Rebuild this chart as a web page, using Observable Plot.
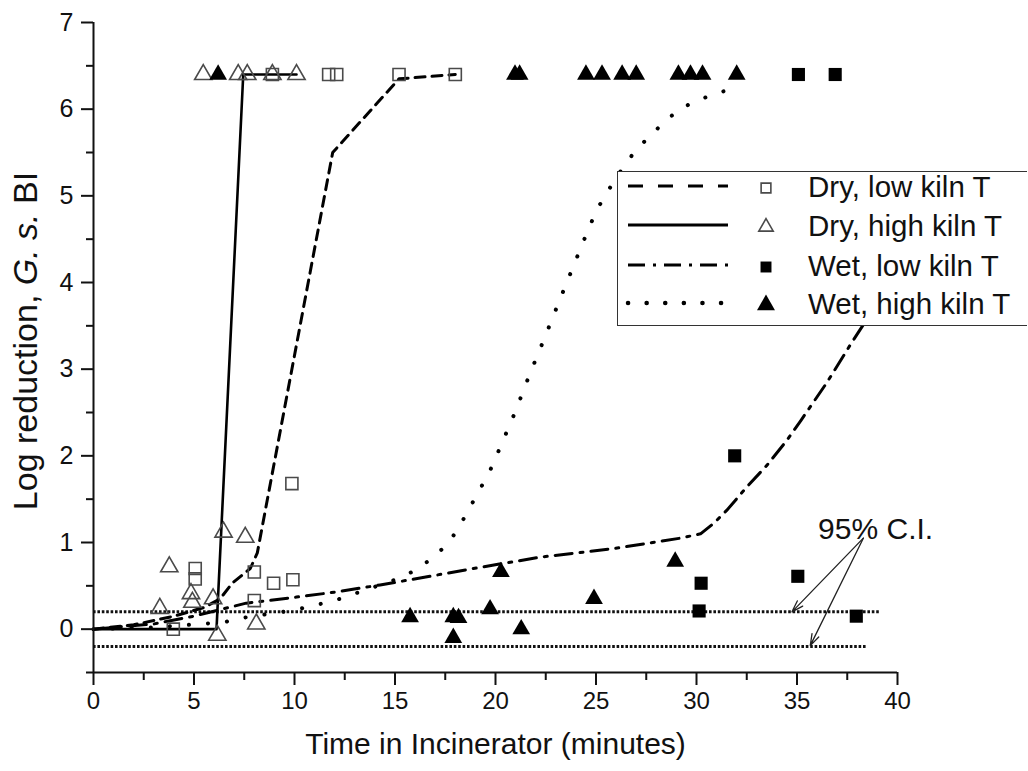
<!DOCTYPE html>
<html><head><meta charset="utf-8">
<script src="https://cdn.jsdelivr.net/npm/d3@7"></script>
<script src="https://cdn.jsdelivr.net/npm/@observablehq/plot@0.6"></script>
<style>
html,body{margin:0;padding:0;background:#fff;}
#wrap{position:relative;width:1028px;height:771px;overflow:hidden;font-family:"Liberation Sans",Arial,sans-serif;}
#legend{position:absolute;left:617px;top:171px;width:409px;height:153px;border:1.5px solid #333;border-right:none;background:#fff;}
</style></head><body><div id="wrap"><div id="legend"></div></div>
<script>
// ---------- data ----------
const xTicks = [0, 5, 10, 15, 20, 25, 30, 35, 40];
const yTicks = [0, 1, 2, 3, 4, 5, 6, 7];
const xMinor = [2.5, 7.5, 12.5, 17.5, 22.5, 27.5, 32.5, 37.5];
const yMinor = [-0.5, 0.5, 1.5, 2.5, 3.5, 4.5, 5.5, 6.5];

const seriesNames = ["Dry, low kiln T", "Dry, high kiln T", "Wet, low kiln T", "Wet, high kiln T"];

// Dry, low kiln T (open squares)
const dryLowX = [3.97, 5.06, 5.06, 8.0, 8.0, 8.96, 9.92, 9.87, 8.9, 11.7, 12.1, 15.2, 18.0];
const dryLowY = [0.0, 0.58, 0.70, 0.33, 0.66, 0.53, 0.57, 1.68, 6.4, 6.4, 6.4, 6.4, 6.4];
// Dry, high kiln T (open triangles)
const dryHighX = [3.3, 3.77, 4.85, 4.92, 5.95, 6.16, 6.47, 7.55, 8.1, 5.46, 7.2, 7.65, 8.9, 10.1];
const dryHighY = [0.24, 0.72, 0.41, 0.31, 0.35, -0.07, 1.12, 1.06, 0.06, 6.4, 6.4, 6.4, 6.4, 6.4];
// Wet, low kiln T (filled squares)
const wetLowX = [30.13, 30.23, 31.9, 35.04, 37.95, 35.07, 36.9];
const wetLowY = [0.21, 0.53, 2.0, 0.61, 0.15, 6.4, 6.4];
// Wet, high kiln T (filled triangles)
const wetHighX = [15.75, 17.9, 18.16, 17.9, 19.73, 20.27, 21.28, 24.9, 28.94,
                  6.2, 20.97, 21.2, 24.5, 25.3, 26.3, 27.0, 29.1, 29.7, 30.3, 32.0];
const wetHighY = [0.14, 0.14, 0.13, -0.10, 0.23, 0.66, 0.0, 0.35, 0.78,
                  6.4, 6.4, 6.4, 6.4, 6.4, 6.4, 6.4, 6.4, 6.4, 6.4, 6.4];

// fitted curves
const dryLowFitX = [0, 2, 4, 5.5, 6.3, 6.9, 7.8, 8.15, 11.9, 15.2, 18.0];
const dryLowFitY = [0, 0.05, 0.15, 0.25, 0.35, 0.53, 0.7, 0.88, 5.5, 6.35, 6.4];
const dryHighFitX = [0, 6.12, 7.45, 10.1];
const dryHighFitY = [0, 0, 6.4, 6.4];
const wetLowFitX = [0, 3, 5, 6.2, 7.6, 10.1, 12.1, 14.26, 16.25, 18.9, 22.2, 25.87, 29.2, 30.2, 30.85, 31.5, 32.5, 33.5, 34.5, 35.2, 36.5, 37.65, 38.6, 40];
const wetLowFitY = [0, 0.06, 0.15, 0.22, 0.3, 0.37, 0.43, 0.51, 0.59, 0.7, 0.83, 0.93, 1.05, 1.1, 1.22, 1.37, 1.64, 1.89, 2.18, 2.41, 2.85, 3.28, 3.62, 4.1];
const wetHighFitX = [0, 3, 6.5, 7.4, 10, 12, 13.5, 15, 15.84, 16.75, 17.66, 18.24, 18.74, 19.24, 19.73, 20.18, 20.95, 21.7, 22.44, 23.18, 23.93, 24.7, 25.12, 25.66, 26.24, 26.92, 27.8, 28.73, 29.65, 30.6, 31.54, 32.0];
const wetHighFitY = [0, 0.02, 0.08, 0.13, 0.22, 0.33, 0.45, 0.57, 0.66, 0.8, 0.99, 1.2, 1.41, 1.62, 1.83, 2.07, 2.49, 2.94, 3.36, 3.79, 4.22, 4.66, 4.87, 5.08, 5.29, 5.51, 5.72, 5.92, 6.06, 6.15, 6.22, 6.27];

// 95% confidence interval lines
const ciLevels = [0.2, -0.2];
const ciEnds = [39.1, 38.5];
// annotation
const ciLabel = ["95% C.I."];
const ciLabelX = [36.05];
const ciLabelY = [1.15];
const arrowX1 = [38.3, 38.3];
const arrowY1 = [1.05, 1.05];
const arrowX2 = [34.75, 35.66];
const arrowY2 = [0.2, -0.19];

const xTitle = "Time in Incinerator (minutes)";

// ---------- chart ----------
const font = "Liberation Sans, Arial, sans-serif";
const open = {fill: "none", stroke: "#4a4a4a", strokeWidth: 1.6};
const filled = {fill: "#000", stroke: "none"};
const fmt = d => String(d);

const chart = Plot.plot({
  width: 1028, height: 771,
  marginLeft: 93, marginRight: 131, marginTop: 22, marginBottom: 99,
  x: {domain: [0, 40]},
  y: {domain: [-0.5, 7]},
  style: {fontFamily: font, color: "#111", background: "white", overflow: "visible"},
  marks: [
    Plot.ruleY(ciLevels, {y: ciLevels, x1: 0, x2: ciEnds, stroke: "#111", strokeWidth: 3, strokeDasharray: "2.6,1.8"}),
    Plot.line(dryHighFitX, {x: dryHighFitX, y: dryHighFitY, stroke: "#000", strokeWidth: 2.6}),
    Plot.line(dryLowFitX, {x: dryLowFitX, y: dryLowFitY, stroke: "#000", strokeWidth: 3, strokeDasharray: "10,7"}),
    Plot.line(wetLowFitX, {x: wetLowFitX, y: wetLowFitY, stroke: "#000", strokeWidth: 3, strokeDasharray: "17,8,3,8"}),
    Plot.line(wetHighFitX, {x: wetHighFitX, y: wetHighFitY, stroke: "#000", strokeWidth: 4, strokeLinecap: "round", strokeDasharray: "0.1,19"}),
    Plot.dot(dryLowX, {x: dryLowX, y: dryLowY, symbol: "square", r: 6.8, ...open}),
    Plot.dot(dryHighX, {x: dryHighX, y: dryHighY, symbol: "triangle", r: 6.4, ...open}),
    Plot.dot(wetLowX, {x: wetLowX, y: wetLowY, symbol: "square", r: 7.4, ...filled}),
    Plot.dot(wetHighX, {x: wetHighX, y: wetHighY, symbol: "triangle", r: 6.6, ...filled}),
    Plot.arrow(arrowX1, {x1: arrowX1, y1: arrowY1, x2: arrowX2, y2: arrowY2, stroke: "#222", strokeWidth: 1.3, headLength: 14, headAngle: 36}),
    Plot.text(ciLabel, {x: ciLabelX, y: ciLabelY, text: d => d, textAnchor: "start", fontSize: 30, fill: "#111"}),
    // axes
    Plot.ruleX([0], {y1: -0.5, y2: 7, stroke: "#111", strokeWidth: 2}),
    Plot.ruleY([-0.5], {x1: 0, x2: 40, stroke: "#111", strokeWidth: 2}),
    Plot.axisY(yTicks, {tickSize: 12, tickPadding: 8, fontSize: 25, strokeWidth: 2, tickFormat: fmt, label: null}),
    Plot.axisY(yMinor, {tickSize: 7, text: null, strokeWidth: 2, label: null}),
    Plot.axisX(xTicks, {tickSize: 13, tickPadding: 6, fontSize: 24, strokeWidth: 2, tickFormat: fmt, label: null}),
    Plot.axisX(xMinor, {tickSize: 8, text: null, strokeWidth: 2, label: null}),
    Plot.text([xTitle], {frameAnchor: "bottom", dy: 81, text: d => d, fontSize: 30, fill: "#111"})
  ]
});

document.getElementById("wrap").insertBefore(chart, document.getElementById("legend"));
chart.style.position = "absolute";
chart.style.left = "0px";
chart.style.top = "0px";

// y-axis title with italic organism name
const ys = chart.scale("y");
const yMid = (ys.apply(7) + ys.apply(-0.5)) / 2 - 6;
const yt = d3.select(chart).append("text")
  .attr("transform", `translate(37,${yMid}) rotate(-90)`)
  .attr("text-anchor", "middle")
  .attr("font-family", font)
  .attr("font-size", 34)
  .attr("fill", "#111");
yt.append("tspan").text("Log reduction, ");
yt.append("tspan").attr("font-style", "italic").text("G. s.");
yt.append("tspan").text(" BI");

// ---------- legend (inside plot, top right) ----------
const legendStyles = [
  {dash: "15,15", width: 3, cap: "butt", symbol: d3.symbolSquare, size: 95, fill: "none", stroke: "#4a4a4a"},
  {dash: null, width: 3, cap: "butt", symbol: d3.symbolTriangle, size: 90, fill: "none", stroke: "#4a4a4a"},
  {dash: "17,8,3,8", width: 3, cap: "butt", symbol: d3.symbolSquare, size: 120, fill: "#000", stroke: "none"},
  {dash: "0.1,18.5", width: 4.5, cap: "round", symbol: d3.symbolTriangle, size: 140, fill: "#000", stroke: "none"}
];
const pad = 14;
const lsvg = d3.select("#legend").append("svg").attr("width", 409).attr("height", 153 + 2 * pad)
  .style("position", "absolute").style("left", "0").style("top", `${-pad}px`);
const rowY = [14, 53, 93, 131];
seriesNames.forEach((name, i) => {
  const s = legendStyles[i];
  const g = lsvg.append("g").attr("transform", `translate(0,${rowY[i] + pad})`);
  g.append("line").attr("x1", 10).attr("x2", 110).attr("y1", 0).attr("y2", 0)
    .attr("stroke", "#000").attr("stroke-width", s.width).attr("stroke-linecap", s.cap)
    .attr("stroke-dasharray", s.dash);
  g.append("path").attr("d", d3.symbol(s.symbol, s.size)()).attr("transform", "translate(148,2)")
    .attr("fill", s.fill).attr("stroke", s.stroke).attr("stroke-width", 1.6);
  g.append("text").attr("x", 190).attr("y", 0).attr("dy", "0.36em")
    .attr("font-family", font).attr("font-size", 29.5).attr("fill", "#111").text(name);
});
</script>
</body></html>
